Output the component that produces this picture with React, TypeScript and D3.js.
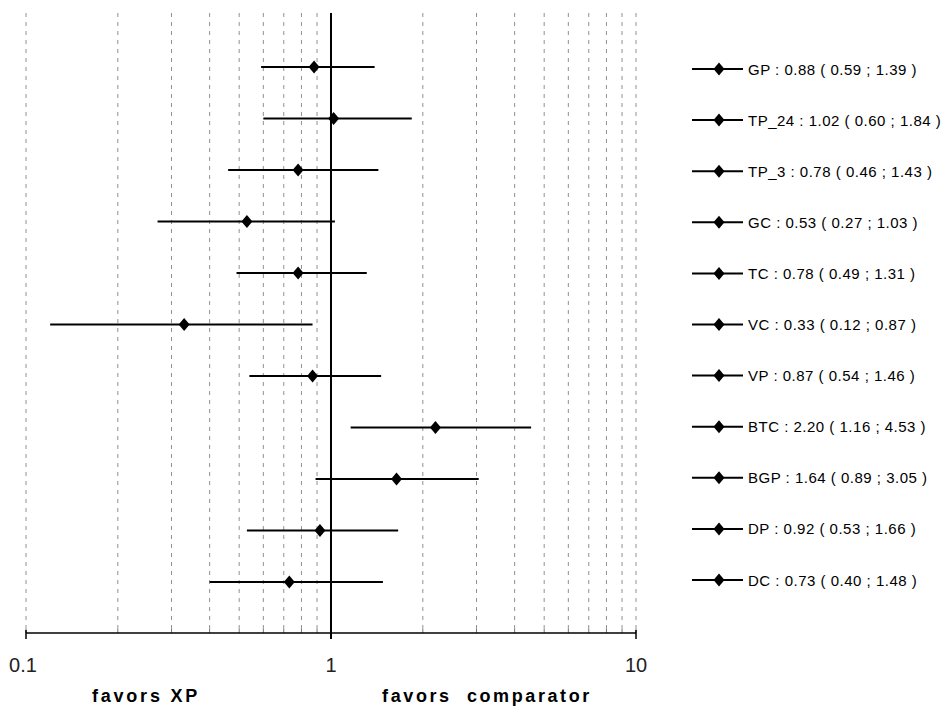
import React from "react";
import * as d3 from "d3";

const labels = ["GP", "TP_24", "TP_3", "GC", "TC", "VC", "VP", "BTC", "BGP", "DP", "DC"];
const estimates = [0.88, 1.02, 0.78, 0.53, 0.78, 0.33, 0.87, 2.2, 1.64, 0.92, 0.73];
const lowers = [0.59, 0.6, 0.46, 0.27, 0.49, 0.12, 0.54, 1.16, 0.89, 0.53, 0.4];
const uppers = [1.39, 1.84, 1.43, 1.03, 1.31, 0.87, 1.46, 4.53, 3.05, 1.66, 1.48];
const majorTicks = [0.1, 1, 10];
const gridValues = [0.1, 0.2, 0.3, 0.4, 0.5, 0.6, 0.7, 0.8, 0.9, 2, 3, 4, 5, 6, 7, 8, 9, 10];
const leftCaption = "favors XP";
const rightCaption = "favors  comparator";

const W = 950;
const H = 709;
const axisY = 633;
const plotTop = 13;

export default function App() {
  const x = d3.scaleLog().domain([0.1, 10]).range([26, 636]);
  const y = d3.scalePoint<string>().domain(labels).range([67, 582]);
  const yLeg = d3.scalePoint<string>().domain(labels).range([69, 580]);
  const fmt = d3.format(".2f");
  const diamond = (cx: number, cy: number) =>
    `M${cx},${cy - 6.5}L${cx + 5.5},${cy}L${cx},${cy + 6.5}L${cx - 5.5},${cy}Z`;
  const font = "'Liberation Sans', Arial, sans-serif";

  return (
    <svg width={W} height={H} style={{ position: "absolute", left: 0, top: 0, background: "#fff" }}>
      <rect x={0} y={0} width={W} height={H} fill="#fff" />
      {gridValues.map((v) => (
        <line
          key={"g" + v}
          x1={x(v)}
          x2={x(v)}
          y1={plotTop}
          y2={axisY}
          stroke="#909090"
          strokeWidth={1}
          strokeDasharray="4,5"
        />
      ))}
      {gridValues.map((v) => (
        <line key={"t" + v} x1={x(v)} x2={x(v)} y1={axisY - 4} y2={axisY} stroke="#777" strokeWidth={1} />
      ))}
      <line x1={x(0.1)} x2={x(10)} y1={axisY} y2={axisY} stroke="#000" strokeWidth={1.5} />
      {majorTicks.map((v) => (
        <line key={"m" + v} x1={x(v)} x2={x(v)} y1={axisY - 3} y2={axisY + 6} stroke="#000" strokeWidth={1.5} />
      ))}
      <line x1={x(1)} x2={x(1)} y1={plotTop} y2={axisY + 6} stroke="#000" strokeWidth={2} />
      {majorTicks.map((v) => (
        <text key={"l" + v} x={x(v) - (v === 0.1 ? 3 : 0)} y={672} fontFamily={font} fontSize={20} textAnchor="middle" fill="#222">
          {String(v)}
        </text>
      ))}
      <text x={146} y={702} fontFamily={font} fontSize={18} fontWeight="bold" letterSpacing={2.8} textAnchor="middle" fill="#000">
        {leftCaption}
      </text>
      <text
        x={487}
        y={702}
        fontFamily={font}
        fontSize={18}
        fontWeight="bold"
        letterSpacing={2.6}
        textAnchor="middle"
        fill="#000"
        style={{ whiteSpace: "pre" }}
      >
        {rightCaption}
      </text>
      {labels.map((lab, i) => {
        const cy = y(lab)!;
        return (
          <g key={lab}>
            <line x1={x(lowers[i])} x2={x(uppers[i])} y1={cy} y2={cy} stroke="#000" strokeWidth={2} />
            <path d={diamond(x(estimates[i]), cy)} fill="#000" />
          </g>
        );
      })}
      {labels.map((lab, i) => {
        const cy = yLeg(lab)!;
        return (
          <g key={"leg" + lab}>
            <line x1={692} x2={743} y1={cy} y2={cy} stroke="#000" strokeWidth={2} />
            <path d={diamond(719, cy)} fill="#000" />
            <text
              x={748}
              y={cy + 5.5}
              fontFamily={font}
              fontSize={15}
              letterSpacing={0.5}
              fill="#000"
              style={{ whiteSpace: "pre" }}
            >
              {`${lab} : ${fmt(estimates[i])} ( ${fmt(lowers[i])} ; ${fmt(uppers[i])} )`}
            </text>
          </g>
        );
      })}
    </svg>
  );
}
